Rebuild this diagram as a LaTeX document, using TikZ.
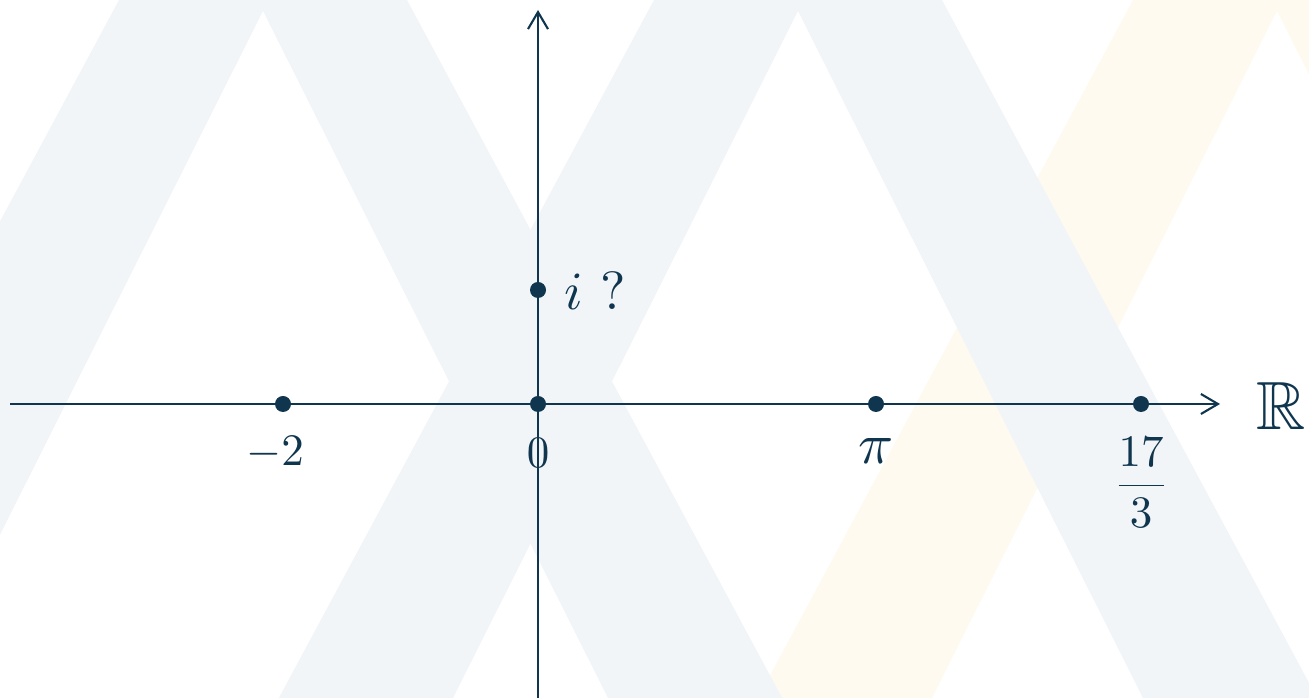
\documentclass[tikz,border=0pt]{standalone}
\usepackage{amssymb}
\usetikzlibrary{arrows.meta,positioning}

\definecolor{ink}{RGB}{16,54,79}
\definecolor{wmblue}{RGB}{241,245,248}
\definecolor{wmyellow}{RGB}{254,250,240}

\begin{document}
\begin{tikzpicture}[x=0.01cm, y=-0.01cm, node distance=0.5cm]
    % Define styles
    \tikzstyle{axisline} = [ink, line width=0.6pt, -{Straight Barb[length=1.7mm, width=2mm]}]
    \tikzstyle{pt} = [circle, fill=ink, inner sep=0pt, minimum size=0.16cm]
    \tikzstyle{lbl} = [text=ink, inner sep=0pt]

    \useasboundingbox (0,0) rectangle (1309,698);

    % Watermark in the background
    \begin{scope}
        \clip (0,0) rectangle (1309,698);
        \fill[wmyellow] (1277-531,720) -- (1277,-268) -- (1277+531,720) -- (1277+356,720) -- (1277,11) -- (1277-356,720) -- cycle;
        \foreach \a in {263,798}
            \fill[wmblue] (\a-531,720) -- (\a,-268) -- (\a+531,720) -- (\a+356,720) -- (\a,11) -- (\a-356,720) -- cycle;
    \end{scope}

    % Axes
    \coordinate (xstart) at (10,404);
    \coordinate (xend) at (1220,404);
    \coordinate (ystart) at (538,700);
    \coordinate (yend) at (538,10);
    \draw[axisline] (xstart) -- (xend);
    \draw[axisline] (ystart) -- (yend);

    % Points on the line
    \node[pt] (mtwo) at (283,404) {};
    \node[pt] (zero) at (538,404) {};
    \node[pt] (pi) at (876,404) {};
    \node[pt] (frac) at (1141,404) {};
    \node[pt] (imag) at (538,290) {};

    % Labels
    \node[lbl, below of=mtwo, xshift=-0.08cm, yshift=0.015cm, scale=1.28, transform shape] (lmtwo) {$-2$};
    \node[lbl, below of=zero, yshift=0.015cm, scale=1.28, transform shape] (lzero) {$0$};
    \node[lbl, below of=pi, yshift=0.03cm, scale=1.65, transform shape] (lpi) {$\pi$};
    \node[lbl, below of=frac, yshift=-0.285cm, scale=1.28, transform shape] (lfrac) {$\displaystyle\frac{17}{3}$};
    \node[lbl, right of=imag, xshift=0.07cm, yshift=-0.01cm, scale=1.53, transform shape] (limag) {$i$ ?};
    \node[lbl, right of=xend, xshift=0.115cm, yshift=-0.025cm, scale=1.94, transform shape] (reals) {$\mathbb{R}$};
\end{tikzpicture}
\end{document}
